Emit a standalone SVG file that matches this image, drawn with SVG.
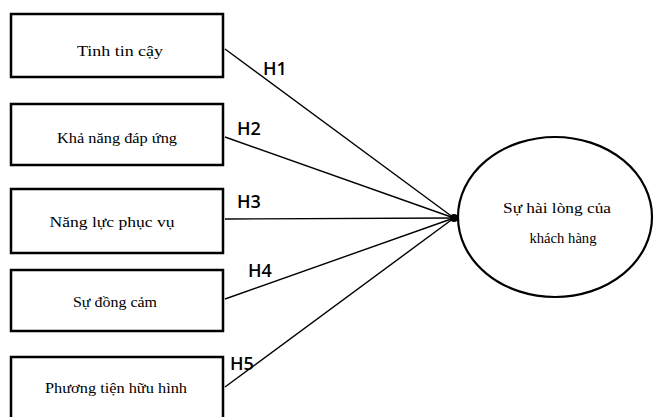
<svg xmlns="http://www.w3.org/2000/svg" width="657" height="417" viewBox="0 0 657 417">
<style>
.box{fill:#fff;stroke:#000;stroke-width:2.5}
.t{font-family:"Liberation Serif","Times New Roman",serif;font-size:15px;fill:#000;text-anchor:middle}
.h{font-family:"Open Sans","Liberation Sans",sans-serif;font-size:18px;font-weight:600;fill:#000}
.ln{stroke:#000;stroke-width:1.4;fill:none}
</style>
<rect width="657" height="417" fill="#fff"/>
<g id="connectors">
<line class="ln" x1="225" y1="49" x2="454" y2="218"/>
<line class="ln" x1="225" y1="137" x2="454" y2="218"/>
<line class="ln" x1="225" y1="219" x2="454" y2="218"/>
<line class="ln" x1="225" y1="299" x2="454" y2="218"/>
<line class="ln" x1="225" y1="387" x2="454" y2="218"/>
<circle cx="454" cy="218" r="4" fill="#000"/>
<text class="h" x="263" y="75">H1</text>
<text class="h" x="237" y="135">H2</text>
<text class="h" x="237" y="208">H3</text>
<text class="h" x="248" y="277">H4</text>
<text class="h" x="230" y="370">H5</text>
</g>
<g id="n1">
<rect class="box" x="11" y="14" width="212" height="63"/>
<text class="t" x="120" y="56" textLength="86" lengthAdjust="spacingAndGlyphs">Tinh tin cậy</text>
</g>
<g id="n2">
<rect class="box" x="11" y="104" width="212" height="61"/>
<text class="t" x="117" y="143" textLength="120" lengthAdjust="spacingAndGlyphs">Khả năng đáp ứng</text>
</g>
<g id="n3">
<rect class="box" x="11" y="189" width="212" height="64"/>
<text class="t" x="112" y="227" textLength="125" lengthAdjust="spacingAndGlyphs">Năng lực phục vụ</text>
</g>
<g id="n4">
<rect class="box" x="11" y="270" width="212" height="61"/>
<text class="t" x="115" y="307" textLength="84" lengthAdjust="spacingAndGlyphs">Sự đồng cảm</text>
</g>
<g id="n5">
<rect class="box" x="11" y="357" width="212" height="70"/>
<text class="t" x="116" y="393" textLength="142" lengthAdjust="spacingAndGlyphs">Phương tiện hữu hình</text>
</g>
<g id="n6">
<ellipse cx="555" cy="217" rx="97" ry="80" fill="#fff" stroke="#000" stroke-width="2.2"/>
<text class="t" x="557" y="213" textLength="108" lengthAdjust="spacingAndGlyphs">Sự hài lòng của</text>
<text class="t" x="563" y="243" textLength="67" lengthAdjust="spacingAndGlyphs">khách hàng</text>
</g>
</svg>
